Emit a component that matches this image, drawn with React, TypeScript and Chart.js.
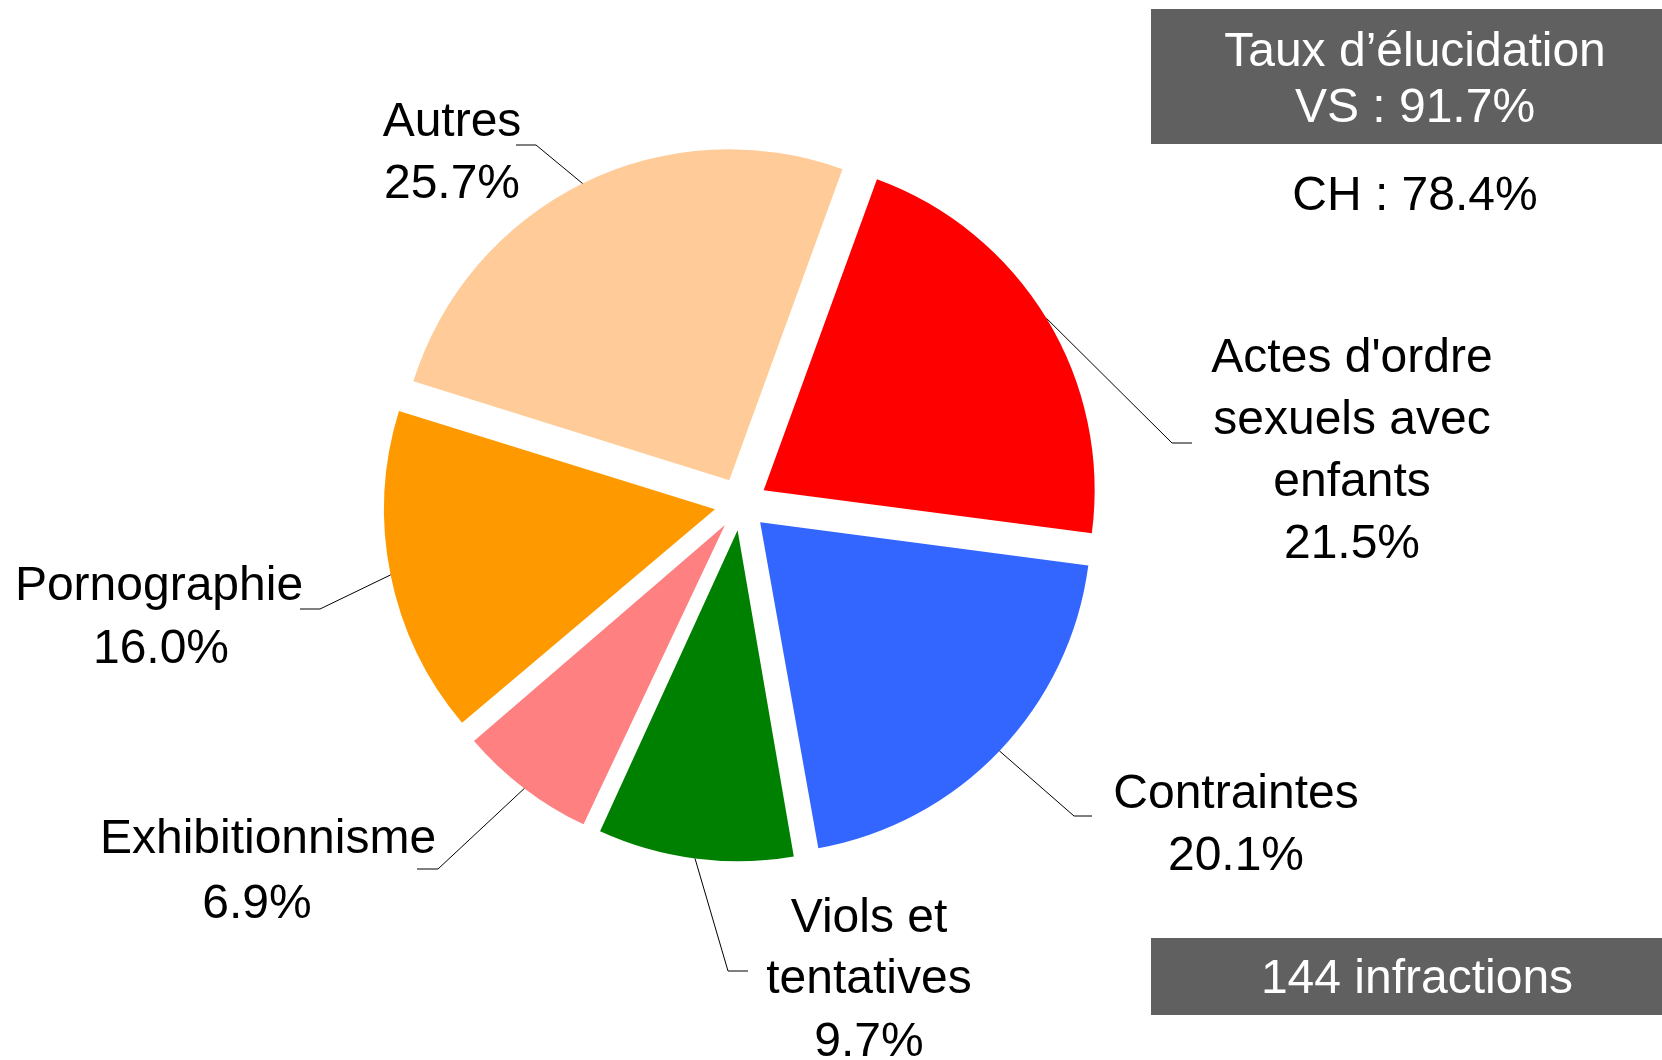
import React, { useEffect, useRef } from "react";
import { Chart, registerables } from "chart.js";

Chart.register(...registerables);

const categories = [
  "Actes d'ordre sexuels avec enfants",
  "Contraintes",
  "Viols et tentatives",
  "Exhibitionnisme",
  "Pornographie",
  "Autres",
];
const labelLines = [
  ["Actes d'ordre", "sexuels avec", "enfants"],
  ["Contraintes"],
  ["Viols et", "tentatives"],
  ["Exhibitionnisme"],
  ["Pornographie"],
  ["Autres"],
];
const shares = [21.5, 20.1, 9.7, 6.9, 16.0, 25.7];
const sliceColors = ["#FF0000", "#3366FF", "#008000", "#FF8080", "#FF9900", "#FFCC99"];

const rateTitle = "Taux d\u2019élucidation";
const vsRate = 91.7;
const chRate = 78.4;
const infractionCount = 144;

const FONT = "48px 'Liberation Sans', Arial, sans-serif";
const PIE_RADIUS = 331;
const EXPLODE = 106; // Chart.js translates an arc by offset / 4

// label layout: text centre positions per line, leader elbow and end
const labelLayout = [
  { x: [1352, 1352, 1352, 1352], y: [359, 421, 483, 545], elbow: [1172, 443], end: [1192, 443] },
  { x: [1236, 1236], y: [795, 857], elbow: [1074, 816], end: [1092, 816] },
  { x: [869, 869, 869], y: [919, 980, 1043], elbow: [728, 971], end: [748, 971] },
  { x: [268, 257], y: [840, 905], elbow: [438, 869], end: [417, 869] },
  { x: [159, 161], y: [587, 650], elbow: [320, 609], end: [300, 609] },
  { x: [452, 452], y: [123, 185], elbow: [536, 145], end: [516, 145] },
];

const fixFactor = (circ: number) => 1 - Math.sin(Math.min(Math.PI, circ));

const radiusPlugin = {
  id: "equalRadius",
  beforeDatasetsDraw(chart: any) {
    const meta = chart.getDatasetMeta(0);
    meta.data.forEach((arc: any) => {
      const circ = arc.endAngle - arc.startAngle;
      const off = (arc.options.offset || 0) / 4;
      arc.outerRadius = PIE_RADIUS - off * fixFactor(circ);
    });
  },
};

const overlayPlugin = {
  id: "overlay",
  afterDraw(chart: any) {
    const ctx = chart.ctx as CanvasRenderingContext2D;
    const meta = chart.getDatasetMeta(0);
    ctx.save();
    ctx.font = FONT;
    ctx.textAlign = "center";
    ctx.textBaseline = "middle";
    meta.data.forEach((arc: any, i: number) => {
      const circ = arc.endAngle - arc.startAngle;
      const off = (arc.options.offset || 0) / 4;
      const mid = (arc.startAngle + arc.endAngle) / 2;
      const r = off + arc.outerRadius + off * fixFactor(circ);
      const sx = arc.x + Math.cos(mid) * r;
      const sy = arc.y + Math.sin(mid) * r;
      const L = labelLayout[i];
      ctx.strokeStyle = "#000000";
      ctx.lineWidth = 1;
      ctx.beginPath();
      ctx.moveTo(sx, sy);
      ctx.lineTo(L.elbow[0], L.elbow[1]);
      ctx.lineTo(L.end[0], L.end[1]);
      ctx.stroke();
      const lines = [...labelLines[i], shares[i].toFixed(1) + "%"];
      ctx.fillStyle = "#000000";
      lines.forEach((t, j) => {
        ctx.fillText(t, L.x[j], L.y[j]);
      });
    });

    // info boxes
    ctx.fillStyle = "#606060";
    ctx.fillRect(1151, 9, 511, 135);
    ctx.fillRect(1151, 938, 511, 77);
    ctx.fillStyle = "#FFFFFF";
    ctx.fillText(rateTitle, 1415, 53);
    ctx.fillText("VS : " + vsRate.toFixed(1) + "%", 1415, 109);
    ctx.fillText(infractionCount + " infractions", 1417, 980);
    ctx.fillStyle = "#000000";
    ctx.fillText("CH : " + chRate.toFixed(1) + "%", 1415, 197);
    ctx.restore();
  },
};

export default function App() {
  const ref = useRef<HTMLCanvasElement | null>(null);
  useEffect(() => {
    if (!ref.current) return;
    const chart = new Chart(ref.current, {
      type: "pie",
      data: {
        labels: categories,
        datasets: [
          {
            data: shares,
            backgroundColor: sliceColors,
            borderWidth: 0,
            offset: EXPLODE,
            radius: PIE_RADIUS,
          } as any,
        ],
      },
      options: {
        responsive: false,
        animation: false,
        devicePixelRatio: 1,
        rotation: 20,
        layout: { padding: { left: 0, top: 0, right: 180, bottom: 52 } },
        plugins: {
          legend: { display: false },
          tooltip: { enabled: false },
        },
      } as any,
      plugins: [radiusPlugin, overlayPlugin],
    });
    return () => chart.destroy();
  }, []);
  return (
    <div style={{ position: "absolute", left: 0, top: 0, width: 1662, height: 1060, background: "#fff" }}>
      <canvas ref={ref} width={1662} height={1060} style={{ display: "block" }} />
    </div>
  );
}
